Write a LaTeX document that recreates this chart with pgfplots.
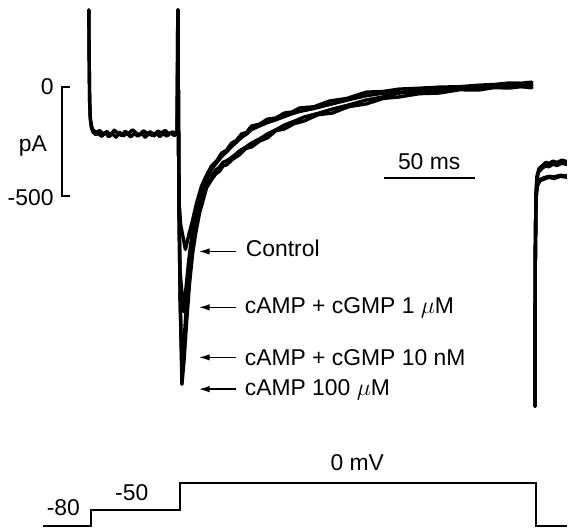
\documentclass[border=0pt]{standalone}
\usepackage{pgfplots}
\pgfplotsset{compat=1.18}
\usepackage{fontspec}
\setmainfont{Liberation Sans}
\usetikzlibrary{arrows.meta}

\tikzset{
  trace/.style={black, line width=1.7bp, line join=round, line cap=round},
  lab/.style={font=\fontsize{11.5}{13}\selectfont, inner sep=0pt},
  pk/.style={black, line width=0.8bp, -{Latex[length=5.5bp,width=3.2bp]}},
}

\begin{document}
\begin{tikzpicture}
% current traces, time in ms (0 = step to 0 mV), current in pA
\begin{axis}[
    width=284bp, height=264.5bp, scale only axis,
    hide axis,
    xmin=-98.9, xmax=213.2,
    ymin=-2026, ymax=400.5,
    clip=true,
]
\path (rel axis cs:0,0) rectangle (rel axis cs:1,1);

% holding at -50 mV
\addplot[trace] coordinates {
  (-50.0,355)(-49.8,125)(-49.56,-58)(-49.2,-141)(-48.6,-177)(-47.8,-196)(-46.2,-208)
  (-44,-200)(-42,-215)(-40,-204)(-38,-220)(-36,-198)(-34,-212)(-32,-222)(-30,-203)
  (-28,-214)(-26,-196)(-24,-210)(-22,-221)(-20,-200)(-18,-213)(-16,-205)(-14,-224)
  (-12,-202)(-10,-211)(-8,-199)(-6,-216)(-4,-206)(-2,-214)(-1.4,-210)(-1.0,355)
};
\addplot[trace] coordinates {
  (-50.0,355)(-49.8,125)(-49.56,-60)(-49.2,-146)(-48.6,-185)(-47.8,-205)(-46.2,-218)
  (-45,-212)(-43,-226)(-41,-210)(-39,-228)(-37,-214)(-35,-230)(-33,-208)(-31,-224)
  (-29,-212)(-27,-229)(-25,-213)(-23,-225)(-21,-211)(-19,-230)(-17,-215)(-15,-222)
  (-13,-209)(-11,-227)(-9,-214)(-7,-225)(-5,-210)(-3,-222)(-1.5,-215)(-1.0,355)
};

% cAMP 100 uM
\addplot[trace] coordinates {
  (-1.0,355)(-0.38,-517)(0.27,-975)(1.26,-1366)(2.47,-1251)(3.85,-1077)(5.49,-898)
  (7.14,-765)(8.79,-673)(10.99,-577)(13.19,-512)(14.84,-462)(17.58,-425)(19.8,-400)
  (21.98,-386)(23.9,-362)(25.82,-357)(29.4,-330)(32.97,-311)(36.3,-282)(39.56,-275)
  (44,-248)(48.35,-233)(53,-200)(57.69,-192)(63,-168)(68.68,-155)(76,-127)(84.07,-119)
  (93,-90)(102.75,-77)(112,-52)(120.88,-45)(132,-30)(142.86,-27)(154,-12)(164.84,-13)
  (173,-2)(181.32,-4)(188,2)(193.96,-3)
};
% cAMP + cGMP 10 nM
\addplot[trace] coordinates {
  (-1.0,355)(-0.38,-517)(0.27,-975)(1.32,-1297)(2.36,-1182)(3.85,-985)(5.49,-820)
  (7.14,-700)(8.79,-618)(10.44,-549)(12.64,-489)(14.84,-445)(17.58,-408)(19.8,-382)
  (21.98,-367)(23.9,-345)(25.82,-339)(29.4,-318)(32.97,-293)(36.3,-276)(39.56,-257)
  (44,-238)(48.35,-215)(53,-196)(57.69,-174)(63,-157)(68.68,-137)(76,-121)(84.07,-101)
  (93,-82)(102.75,-59)(112,-45)(120.88,-27)(132,-20)(142.86,-9)(154,-4)(164.84,5)
  (173,9)(181.32,14)(188,12)(193.96,14)
};
% cAMP + cGMP 1 uM
\addplot[trace] coordinates {
  (-1.0,355)(-0.38,-517)(0.16,-838)(2.09,-1031)(3.30,-939)(4.95,-801)(6.59,-691)
  (8.24,-600)(10.44,-526)(12.09,-470)(14.84,-420)(17.58,-378)(20.3,-348)(23.08,-319)
  (25.8,-298)(28.57,-273)(31.3,-253)(34.07,-231)(36.8,-216)(39.56,-195)(44,-178)
  (48.35,-163)(53,-150)(57.69,-135)(62,-122)(65.93,-112)(74,-98)(82.42,-80)(92,-60)
  (102.75,-39)(112,-28)(120.88,-25)(132,-14)(142.86,-16)(154,-6)(164.84,-7)(173,4)
  (181.32,3)(188,10)(193.96,7)
};
% Control
\addplot[trace] coordinates {
  (-1.0,355)(-0.38,-517)(0.55,-632)(3.19,-746)(4.95,-682)(7.14,-612)(9.34,-532)
  (12.09,-454)(14.84,-404)(17.58,-362)(20.3,-340)(23.08,-303)(25.8,-290)(28.57,-257)
  (31.3,-245)(34.07,-215)(36.8,-208)(39.56,-179)(44,-170)(48.35,-147)(53,-142)
  (57.69,-119)(62,-114)(65.93,-96)(74,-90)(82.42,-64)(92,-52)(102.75,-23)(112,-20)
  (120.88,-9)(132,-5)(142.86,0)(154,2)(164.84,9)(173,12)(181.32,19)(188,18)(193.96,23)
};

% tail currents back at -80 mV
\addplot[trace] coordinates {
  (195.6,-1466)(195.8,-792)(196.15,-494)(196.7,-420)(197.8,-388)(200.0,-370)
  (201.6,-362)(203.3,-366)(205.5,-354)(207.7,-360)(210.4,-350)(213.2,-355)
};
\addplot[trace] coordinates {
  (195.6,-1466)(195.8,-792)(196.15,-494)(196.7,-410)(197.8,-375)(200.0,-358)
  (201.6,-346)(203.3,-352)(205.5,-340)(207.7,-346)(210.4,-336)(213.2,-342)
};
\addplot[trace] coordinates {
  (195.6,-1466)(195.8,-792)(196.15,-517)(196.98,-453)(198.35,-430)(201.1,-421)
  (203.5,-414)(206.0,-420)(209.5,-410)(213.2,-414)
};
\addplot[trace] coordinates {
  (195.6,-1466)(195.8,-792)(196.15,-510)(196.98,-446)(198.35,-424)(201.1,-415)
  (203.5,-410)(206.0,-413)(209.5,-405)(213.2,-408)
};

% scale bars: 500 pA and 50 ms
\draw[black, line width=0.9bp] (axis cs:-60.4,0) -- (axis cs:-64.8,0)
  -- (axis cs:-64.8,-500) -- (axis cs:-60.4,-500);
\draw[black, line width=0.9bp] (axis cs:112.5,-416) -- (axis cs:162.5,-416);

% arrows to the peaks
\draw[pk] (axis cs:31.3,-755) -- (axis cs:10.4,-755);
\draw[pk] (axis cs:31.3,-1012) -- (axis cs:10.4,-1012);
\draw[pk] (axis cs:31.3,-1242) -- (axis cs:10.4,-1242);
\draw[pk] (axis cs:31.3,-1388) -- (axis cs:10.4,-1388);
\end{axis}

% voltage protocol, mV
\begin{axis}[
    width=284bp, height=264.5bp, scale only axis,
    hide axis,
    xmin=-98.9, xmax=213.2,
    ymin=-83.7, ymax=900.5,
    clip=false,
]
\addplot[black, line width=1.1bp, line join=miter] coordinates {
  (-75.3,-80)(-48.9,-80)(-48.9,-50)(0,-50)(0,0)(196.15,0)(196.15,-80)(213.2,-80)
};

\node[lab, anchor=east] at (rel axis cs:0.0951,0.8355) {0};
\node[lab, anchor=east] at (rel axis cs:0.0951,0.6257) {-500};
\node[lab] at (rel axis cs:0.0581,0.7240) {pA};
\node[lab] at (rel axis cs:0.757,0.6938) {50 ms};
\node[lab, anchor=west] at (rel axis cs:0.4331,0.5293) {Control};
\node[lab, anchor=west] at (rel axis cs:0.4313,0.4178) {cAMP + cGMP 1 $\mu$M};
\node[lab, anchor=west] at (rel axis cs:0.4313,0.3233) {cAMP + cGMP 10 nM};
\node[lab, anchor=west] at (rel axis cs:0.4313,0.2609) {cAMP 100 $\mu$M};
\node[lab] at (rel axis cs:0.1118,0.0378) {-80};
\node[lab] at (rel axis cs:0.2324,0.0662) {-50};
\node[lab] at (rel axis cs:0.6303,0.1229) {0 mV};
\end{axis}
\end{tikzpicture}
\end{document}
